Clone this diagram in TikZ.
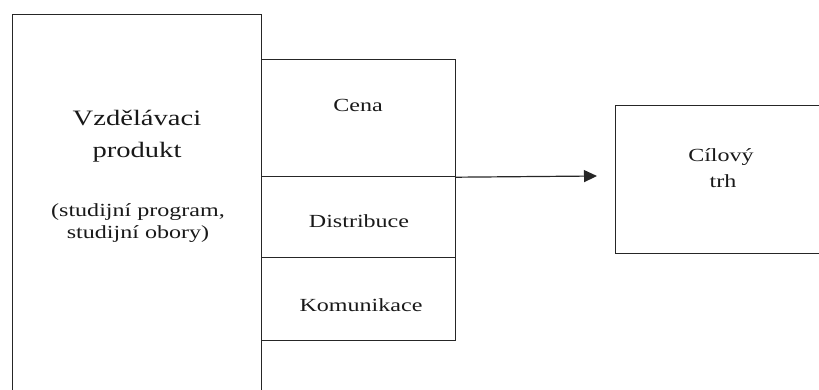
\documentclass[tikz,border=0pt]{standalone}
\usepackage{fontspec}
\setmainfont{Liberation Serif}
\newfontfamily\widefont[FakeStretch=1.3]{Liberation Serif}
\usetikzlibrary{arrows.meta}
\tikzset{
  boxline/.style={draw=black!85, line width=1.2pt},
  blockbox/.style={boxline, rectangle, inner sep=0pt, anchor=north west},
  bigtxt/.style={anchor=base, inner sep=0pt, font=\widefont\fontsize{22}{32}\selectfont, text=black!90},
  smalltxt/.style={anchor=base, inner sep=0pt, font=\widefont\fontsize{18.5}{22}\selectfont, text=black!90},
}
\begin{document}
\begin{tikzpicture}[x=1pt,y=-1pt]
\useasboundingbox (0,0) rectangle (819,390);
\clip (0,0) rectangle (819,390);
% boxes
\node[blockbox, minimum width=249pt, minimum height=400pt] (prod) at (12,14) {};
\node[blockbox, minimum width=194pt, minimum height=117pt] (cena) at (261,59) {};
\node[blockbox, minimum width=194pt, minimum height=81pt] (dist) at (261,176) {};
\node[blockbox, minimum width=194pt, minimum height=83pt] (kom) at (261,257) {};
\node[blockbox, minimum width=216pt, minimum height=148pt] (trh) at (615,105) {};
% texts
\node[bigtxt] (t1) at (137,126) {Vzdělávaci};
\node[bigtxt] (t2) at (137,158) {produkt};
\node[smalltxt] (t3) at (138,217) {(studijní program,};
\node[smalltxt] (t4) at (138,239) {studijní obory)};
\node[smalltxt] (tc) at (358,112) {Cena};
\node[smalltxt] (td) at (359,227) {Distribuce};
\node[smalltxt] (tk) at (361,311) {Komunikace};
\node[smalltxt] (tt1) at (721,162) {Cílový};
\node[smalltxt] (tt2) at (723,188) {trh};
% arrow
\coordinate (tip) at (597,176);
\draw[draw=black!85, line width=1.2pt, -{Triangle[length=13pt,width=12pt]}] (cena.south east) -- (tip);
\end{tikzpicture}
\end{document}
